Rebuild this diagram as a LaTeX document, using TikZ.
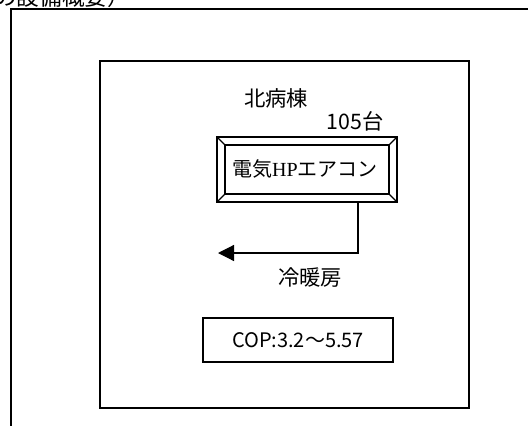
\documentclass[tikz,border=0pt]{standalone}
\usepackage{fontspec}
\setmainfont{Noto Sans CJK JP}
\newfontfamily\serifhp{Liberation Serif}
\usetikzlibrary{arrows.meta}
\tikzset{
  frame/.style={draw, line width=1.1pt},
  thin/.style={draw, line width=0.9pt},
  lbl/.style={inner sep=0pt, font=\fontsize{16pt}{18pt}\selectfont},
}
\begin{document}
\begin{tikzpicture}[x=0.75pt,y=-0.75pt]
\useasboundingbox (0,0) rectangle (528,425);
\clip (0,0) rectangle (528,425);
% top cut-off title
\node[anchor=base west, inner sep=0pt, font=\fontsize{17pt}{19pt}\selectfont] (title) at (-6,5.5) {の設備概要）};
% outer frame
\draw[frame] (11,430) -- (11,9) -- (535,9);
% inner box
\draw[frame] (100,61) rectangle (469,408);
% labels
\node[lbl] (bldg) at (276,98) {北病棟};
\node[lbl] (count) at (355,121) {105台};
% beveled box
\coordinate (o1) at (217,137);
\coordinate (o2) at (397,202);
\coordinate (i1) at (225,145);
\coordinate (i2) at (389,194);
\draw[thin] (o1) rectangle (o2);
\draw[thin] (i1) rectangle (i2);
\draw[thin] (217,137) -- (225,145);
\draw[thin] (397,137) -- (389,145);
\draw[thin] (217,202) -- (225,194);
\draw[thin] (397,202) -- (389,194);
\node[lbl, font=\fontsize{15pt}{17pt}\selectfont] (hp) at (305,169) {電気{\serifhp HP}エアコン};
% connector
\coordinate (start) at (358,202);
\coordinate (corner) at (358,253);
\coordinate (tip) at (218,253);
\draw[thin, -{Triangle[length=12pt,width=12pt]}] (start) -- (corner) -- (tip);
\node[lbl] (mode) at (310,278) {冷暖房};
% COP box
\node[draw, line width=0.9pt, minimum width=142.5pt, minimum height=33pt, inner sep=0pt, font=\fontsize{15pt}{17pt}\selectfont] (cop) at (298,340) {COP:3.2〜5.57};
\end{tikzpicture}
\end{document}
